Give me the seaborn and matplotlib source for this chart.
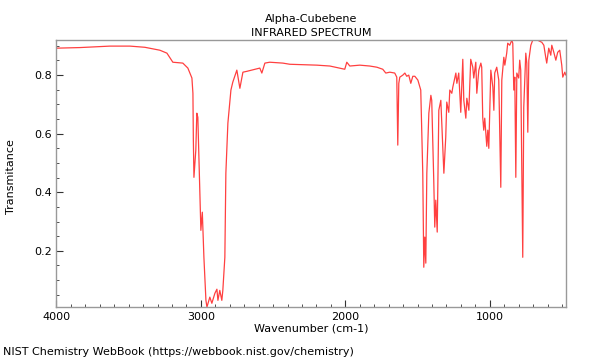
import numpy as np
import pandas as pd
import matplotlib
matplotlib.use('Agg')
import matplotlib.pyplot as plt
import seaborn as sns
from matplotlib.ticker import MultipleLocator

sns.set_style('white')
plt.rcParams['font.family'] = ['DejaVu Sans']
plt.rcParams['text.color'] = 'black'
plt.rcParams['axes.labelcolor'] = 'black'

compound = 'Alpha-Cubebene'

wavenumber = [
    4000, 3837, 3630, 3491, 3388, 3284, 3235, 3194, 3125, 3090,
    3062, 3055, 3052, 3048, 3035, 3028, 3021, 3014, 3000, 2990,
    2979, 2965, 2958, 2938, 2924, 2903, 2889, 2882, 2869, 2855,
    2848, 2834, 2827, 2813, 2792, 2779, 2751, 2730, 2709, 2681,
    2592, 2578, 2557, 2523, 2433, 2384, 2197, 2107, 2004, 1990,
    1969, 1900, 1831, 1782, 1741, 1720, 1692, 1658, 1644, 1637,
    1630, 1623, 1602, 1588, 1575, 1561, 1547, 1533, 1519, 1498,
    1478, 1464, 1457, 1450, 1443, 1436, 1422, 1408, 1402, 1388,
    1381, 1374, 1364, 1353, 1339, 1332, 1318, 1305, 1298, 1284,
    1277, 1263, 1256, 1235, 1228, 1215, 1201, 1187, 1180, 1166,
    1159, 1145, 1132, 1118, 1111, 1097, 1090, 1076, 1062, 1056,
    1049, 1042, 1035, 1021, 1014, 1007, 993, 979, 972, 966,
    952, 938, 924, 917, 903, 896, 883, 876, 862, 848,
    841, 834, 827, 820, 813, 800, 793, 786, 772, 765,
    751, 744, 737, 730, 716, 703, 668, 640, 626, 613,
    606, 592, 578, 571, 557, 543, 530, 516, 502, 495,
    481, 474,
]
transmittance = [
    0.892, 0.894, 0.899, 0.899, 0.895, 0.885, 0.875, 0.844, 0.841, 0.824,
    0.790, 0.738, 0.578, 0.451, 0.544, 0.670, 0.656, 0.520, 0.270, 0.332,
    0.178, 0.031, 0.008, 0.042, 0.021, 0.055, 0.069, 0.031, 0.065, 0.031,
    0.065, 0.178, 0.465, 0.636, 0.749, 0.776, 0.817, 0.755, 0.810, 0.813,
    0.824, 0.807, 0.841, 0.844, 0.841, 0.837, 0.834, 0.831, 0.820, 0.844,
    0.831, 0.834, 0.831, 0.827, 0.820, 0.807, 0.810, 0.807, 0.793, 0.561,
    0.772, 0.793, 0.800, 0.807, 0.796, 0.800, 0.772, 0.796, 0.796, 0.783,
    0.749, 0.465, 0.144, 0.247, 0.158, 0.465, 0.670, 0.731, 0.714, 0.441,
    0.281, 0.373, 0.264, 0.680, 0.714, 0.629, 0.465, 0.588, 0.708, 0.673,
    0.749, 0.738, 0.759, 0.807, 0.772, 0.807, 0.673, 0.854, 0.714, 0.653,
    0.721, 0.680, 0.854, 0.827, 0.790, 0.844, 0.738, 0.817, 0.841, 0.827,
    0.656, 0.612, 0.653, 0.557, 0.612, 0.550, 0.817, 0.759, 0.680, 0.807,
    0.827, 0.783, 0.417, 0.783, 0.861, 0.834, 0.875, 0.909, 0.902, 0.919,
    0.909, 0.749, 0.793, 0.451, 0.807, 0.790, 0.851, 0.817, 0.178, 0.690,
    0.875, 0.841, 0.605, 0.851, 0.902, 0.919, 0.919, 0.912, 0.902, 0.861,
    0.841, 0.892, 0.868, 0.902, 0.878, 0.851, 0.878, 0.885, 0.834, 0.793,
    0.810, 0.800,
]

df = pd.DataFrame({'Wavenumber': wavenumber, 'Transmitance': transmittance})

fig = plt.figure(figsize=(6, 3.6), dpi=100)
ax = fig.add_axes([0.094, 0.147, 0.849, 0.742])

sns.lineplot(data=df, x='Wavenumber', y='Transmitance', ax=ax,
             color='red', alpha=0.75, linewidth=0.9)

ax.set_xlim(4000, 474)
ax.set_ylim(0.008, 0.92)
ax.xaxis.set_major_locator(MultipleLocator(1000))
ax.xaxis.set_minor_locator(MultipleLocator(100))
ax.yaxis.set_major_locator(MultipleLocator(0.2))
ax.yaxis.set_minor_locator(MultipleLocator(0.05))
ax.tick_params(which='both', direction='in', colors='#333333', labelsize=8,
               labelcolor='black', bottom=True, left=True, top=False, right=False)
ax.tick_params(which='major', length=5, width=0.8)
ax.tick_params(which='minor', length=2.5, width=0.6)
for s in ax.spines.values():
    s.set_color('#999999')
    s.set_linewidth(1)

ax.set_xlabel('Wavenumber (cm-1)', fontsize=8, labelpad=1)
ax.set_ylabel('Transmitance', fontsize=8)
ax.yaxis.set_label_coords(-0.080, 0.49)
ax.set_title(f'{compound}\nINFRARED SPECTRUM', fontsize=8, pad=3, linespacing=1.5)
fig.text(0.005, 0.022, 'NIST Chemistry WebBook (https://webbook.nist.gov/chemistry)',
         fontsize=8, ha='left', va='center')

fig.savefig('out.png', dpi=100)
